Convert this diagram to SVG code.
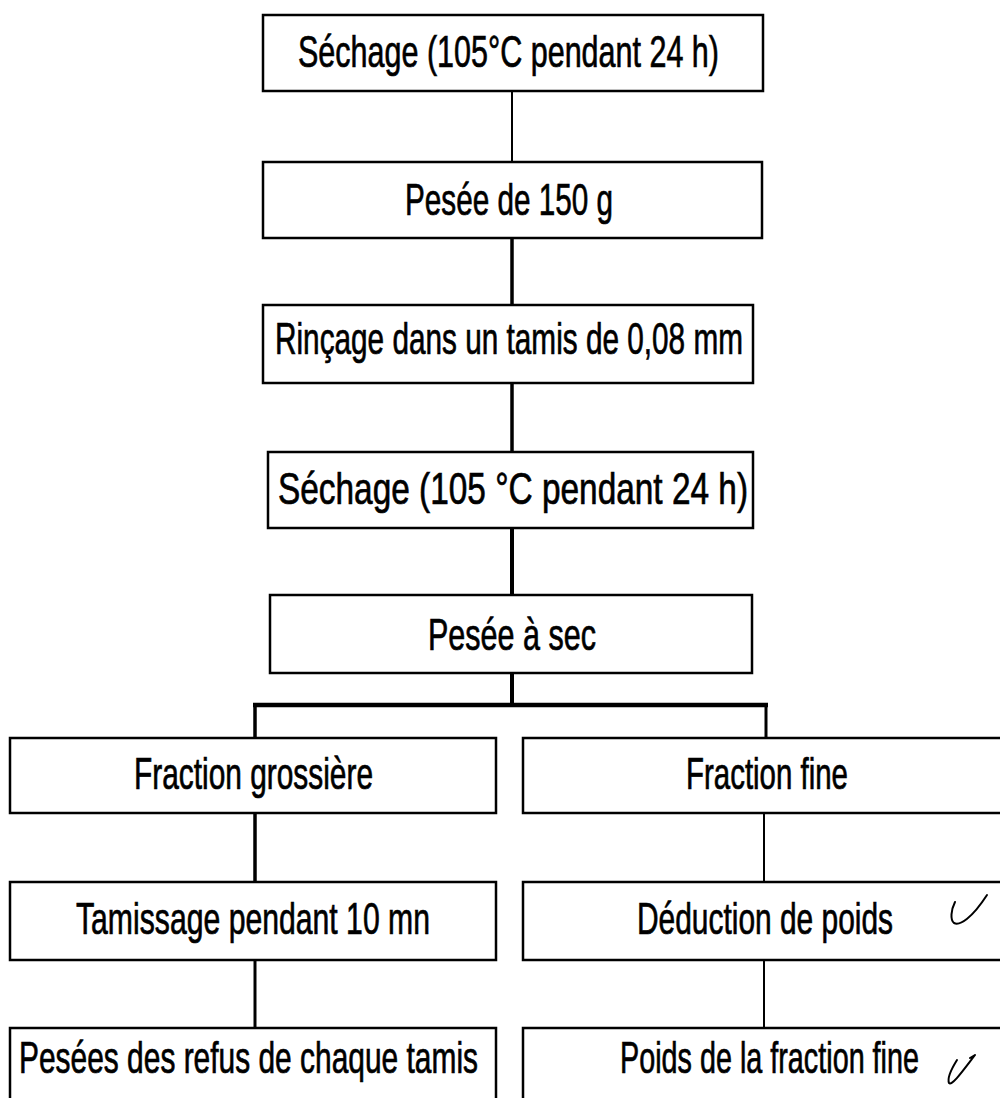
<svg xmlns="http://www.w3.org/2000/svg" width="1000" height="1098" viewBox="0 0 1000 1098">
<style>
.box{fill:#fff;stroke:#000;stroke-width:2.5}
.lbl{font-family:"Liberation Sans",Arial,sans-serif;font-size:44px;fill:#000;stroke:#000;stroke-width:0.7}
.c{stroke:#000;fill:none;stroke-linecap:butt}
.tick{stroke:#000;fill:none;stroke-width:2;stroke-linecap:round;stroke-linejoin:round}
</style>
<rect width="1000" height="1098" fill="#fff"/>
<g id="connectors">
<line class="c" x1="512" y1="91" x2="512" y2="162" stroke-width="2"/>
<line class="c" x1="512" y1="238" x2="512" y2="305" stroke-width="3.5"/>
<line class="c" x1="512" y1="383" x2="512" y2="452" stroke-width="3.5"/>
<line class="c" x1="512" y1="528" x2="512" y2="595" stroke-width="4"/>
<line class="c" x1="512" y1="673" x2="512" y2="705" stroke-width="4"/>
<line class="c" x1="253" y1="705" x2="768" y2="705" stroke-width="4.5"/>
<line class="c" x1="255" y1="705" x2="255" y2="738" stroke-width="3.5"/>
<line class="c" x1="766" y1="705" x2="766" y2="738" stroke-width="3"/>
<line class="c" x1="255" y1="813" x2="255" y2="882" stroke-width="3.5"/>
<line class="c" x1="764" y1="813" x2="764" y2="882" stroke-width="2"/>
<line class="c" x1="255" y1="960" x2="255" y2="1028" stroke-width="3"/>
<line class="c" x1="764" y1="960" x2="764" y2="1028" stroke-width="2"/>
</g>
<g id="n1"><rect class="box" x="263" y="15" width="500" height="76"/><text class="lbl" x="298" y="67" textLength="421" lengthAdjust="spacingAndGlyphs">Séchage (105°C pendant 24 h)</text></g>
<g id="n2"><rect class="box" x="263" y="162" width="499" height="76"/><text class="lbl" x="405" y="215" textLength="208" lengthAdjust="spacingAndGlyphs">Pesée de 150 g</text></g>
<g id="n3"><rect class="box" x="263" y="305" width="490" height="78"/><text class="lbl" x="275" y="354" textLength="468" lengthAdjust="spacingAndGlyphs">Rinçage dans un tamis de 0,08 mm</text></g>
<g id="n4"><rect class="box" x="268" y="452" width="485" height="76"/><text class="lbl" x="278" y="504" textLength="470" lengthAdjust="spacingAndGlyphs">Séchage (105 °C pendant 24 h)</text></g>
<g id="n5"><rect class="box" x="270" y="595" width="482" height="78"/><text class="lbl" x="428" y="650" textLength="168" lengthAdjust="spacingAndGlyphs">Pesée à sec</text></g>
<g id="n6"><rect class="box" x="10" y="738" width="486" height="75"/><text class="lbl" x="134" y="789" textLength="239" lengthAdjust="spacingAndGlyphs">Fraction grossière</text></g>
<g id="n7"><rect class="box" x="523" y="738" width="480" height="75"/><text class="lbl" x="686" y="789" textLength="162" lengthAdjust="spacingAndGlyphs">Fraction fine</text></g>
<g id="n8"><rect class="box" x="10" y="882" width="486" height="78"/><text class="lbl" x="76" y="934" textLength="354" lengthAdjust="spacingAndGlyphs">Tamissage pendant 10 mn</text></g>
<g id="n9"><rect class="box" x="523" y="882" width="480" height="78"/><text class="lbl" x="637" y="934" textLength="256" lengthAdjust="spacingAndGlyphs">Déduction de poids</text><path class="tick" d="M955,902 C951,910 950,920 954,923 C960,926 972,918 987,895"/></g>
<g id="n10"><rect class="box" x="10" y="1028" width="486" height="90"/><text class="lbl" x="19" y="1073" textLength="459" lengthAdjust="spacingAndGlyphs">Pesées des refus de chaque tamis</text></g>
<g id="n11"><rect class="box" x="523" y="1028" width="480" height="90"/><text class="lbl" x="620" y="1073" textLength="299" lengthAdjust="spacingAndGlyphs">Poids de la fraction fine</text><path class="tick" d="M957,1060 C952,1068 947,1078 949,1083 C952,1086 962,1072 975,1055 M975,1055 L970,1058"/></g>
</svg>
